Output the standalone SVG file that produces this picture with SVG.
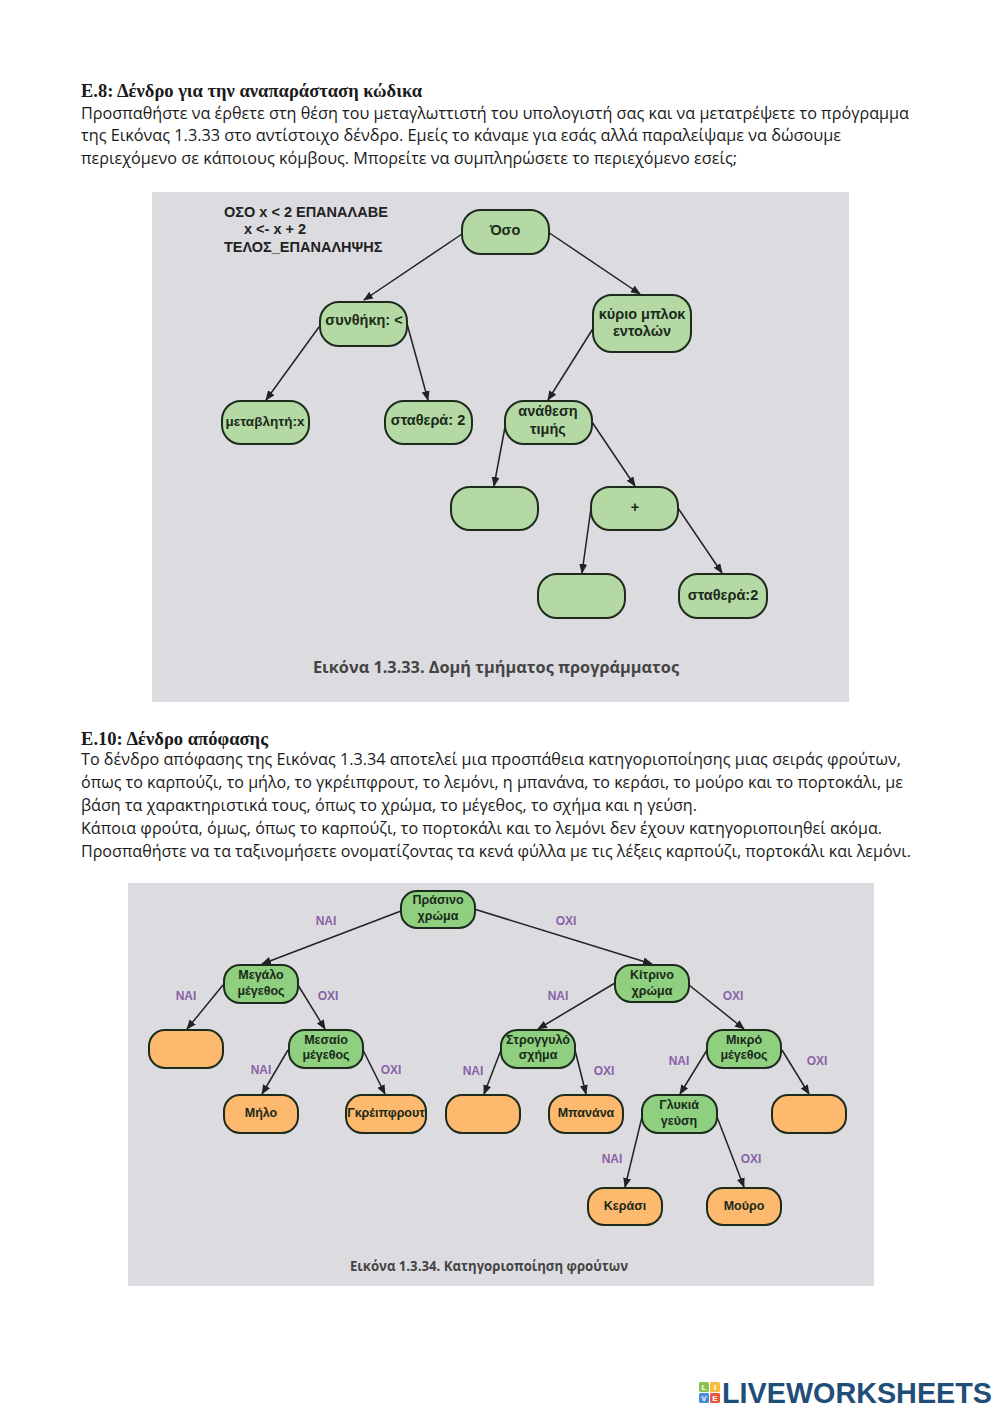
<svg xmlns="http://www.w3.org/2000/svg" width="1000" height="1413" viewBox="0 0 1000 1413">
<style>
.h{font:bold 18px "Liberation Serif",serif;fill:#1a1a1a}
.b{font:16.2px "Open Sans","Noto Sans",sans-serif;fill:#1a1a1a}
.n{stroke:#1c2b1c;stroke-width:2;fill:#b4d9a4}
.g{stroke:#1c2b1c;stroke-width:2;fill:#8fcf80}
.o{stroke:#1c2b1c;stroke-width:2;fill:#fdb96d}
.t{font:bold 14.5px "Liberation Sans",sans-serif;fill:#1a2a1a;text-anchor:middle}
.s{font:bold 12.5px "Liberation Sans",sans-serif;fill:#1a2a1a;text-anchor:middle}
.l{font:bold 12px "Liberation Sans",sans-serif;fill:#8a62a8;text-anchor:middle}
.c{font:bold 16px "Open Sans","Noto Sans",sans-serif;fill:#444;text-anchor:middle}
#connectors line{stroke:#222;stroke-width:1.5;marker-end:url(#a)}
</style>
<defs><marker id="a" markerUnits="userSpaceOnUse" markerWidth="11" markerHeight="10" refX="9" refY="4" orient="auto"><path d="M0 0L10 4L0 8z" fill="#222"/></marker></defs>
<rect width="1000" height="1413" fill="#fff"/>
<text class="h" x="81" y="97" textLength="341" lengthAdjust="spacingAndGlyphs">Ε.8: Δένδρο για την αναπαράσταση κώδικα</text>
<text class="b" x="81" y="119" textLength="828" lengthAdjust="spacingAndGlyphs">Προσπαθήστε να έρθετε στη θέση του μεταγλωττιστή του υπολογιστή σας και να μετατρέψετε το πρόγραμμα</text>
<text class="b" x="81" y="141" textLength="760" lengthAdjust="spacingAndGlyphs">της Εικόνας 1.3.33 στο αντίστοιχο δένδρο. Εμείς το κάναμε για εσάς αλλά παραλείψαμε να δώσουμε</text>
<text class="b" x="81" y="164" textLength="656" lengthAdjust="spacingAndGlyphs">περιεχόμενο σε κάποιους κόμβους. Μπορείτε να συμπληρώσετε το περιεχόμενο εσείς;</text>
<rect x="152" y="192" width="697" height="510" fill="#dcdce0"/>
<text class="h" x="81" y="745" textLength="187" lengthAdjust="spacingAndGlyphs">Ε.10: Δένδρο απόφασης</text>
<text class="b" x="81" y="765" textLength="820" lengthAdjust="spacingAndGlyphs">Το δένδρο απόφασης της Εικόνας 1.3.34 αποτελεί μια προσπάθεια κατηγοριοποίησης μιας σειράς φρούτων,</text>
<text class="b" x="81" y="788" textLength="822" lengthAdjust="spacingAndGlyphs">όπως το καρπούζι, το μήλο, το γκρέιπφρουτ, το λεμόνι, η μπανάνα, το κεράσι, το μούρο και το πορτοκάλι, με</text>
<text class="b" x="81" y="811" textLength="616" lengthAdjust="spacingAndGlyphs">βάση τα χαρακτηριστικά τους, όπως το χρώμα, το μέγεθος, το σχήμα και η γεύση.</text>
<text class="b" x="81" y="834" textLength="801" lengthAdjust="spacingAndGlyphs">Κάποια φρούτα, όμως, όπως το καρπούζι, το πορτοκάλι και το λεμόνι δεν έχουν κατηγοριοποιηθεί ακόμα.</text>
<text class="b" x="81" y="857" textLength="830" lengthAdjust="spacingAndGlyphs">Προσπαθήστε να τα ταξινομήσετε ονοματίζοντας τα κενά φύλλα με τις λέξεις καρπούζι, πορτοκάλι και λεμόνι.</text>
<rect x="128" y="883" width="746" height="403" fill="#dcdce0"/>
<g id="code" font-family="Liberation Sans" font-weight="bold" font-size="14.5" fill="#222"><text x="224" y="217">ΟΣΟ x &lt; 2 ΕΠΑΝΑΛΑΒΕ</text><text x="244" y="234">x &lt;- x + 2</text><text x="224" y="252">ΤΕΛΟΣ_ΕΠΑΝΑΛΗΨΗΣ</text></g>
<g id="connectors">
<line x1="462" y1="234" x2="364" y2="300"/><line x1="548" y1="232" x2="640" y2="294"/>
<line x1="319" y1="327" x2="266" y2="400"/><line x1="406" y1="320" x2="428" y2="400"/>
<line x1="594" y1="327" x2="548" y2="400"/><line x1="505" y1="427" x2="494" y2="486"/><line x1="592" y1="422" x2="635" y2="486"/>
<line x1="591" y1="508" x2="582" y2="573"/><line x1="678" y1="508" x2="722" y2="573"/>
<line x1="401" y1="911" x2="262" y2="964"/><line x1="474" y1="909" x2="652" y2="964"/>
<line x1="223" y1="985" x2="187" y2="1029"/><line x1="298" y1="985" x2="325" y2="1029"/>
<line x1="288" y1="1050" x2="262" y2="1094"/><line x1="363" y1="1050" x2="385" y2="1094"/>
<line x1="615" y1="983" x2="538" y2="1029"/><line x1="689" y1="985" x2="744" y2="1029"/>
<line x1="501" y1="1050" x2="484" y2="1094"/><line x1="575" y1="1050" x2="586" y2="1094"/>
<line x1="707" y1="1050" x2="680" y2="1094"/><line x1="782" y1="1050" x2="809" y2="1094"/>
<line x1="642" y1="1117" x2="625" y2="1187"/><line x1="717" y1="1117" x2="744" y2="1187"/>
</g>
<g id="n1"><rect class="n" x="462" y="210" width="87" height="44" rx="19"/><text class="t" x="505" y="235">Όσο</text></g>
<g id="n2"><rect class="n" x="320" y="302" width="87" height="44" rx="19"/><text class="t" x="364" y="325">συνθήκη: &lt;</text></g>
<g id="n3"><rect class="n" x="593" y="295" width="98" height="57" rx="19"/><text class="t" x="642" y="319">κύριο μπλοκ</text><text class="t" x="642" y="336">εντολών</text></g>
<g id="n4"><rect class="n" x="222" y="401" width="87" height="43" rx="19"/><text class="s" x="265" y="426" style="font-size:13.5px">μεταβλητή:x</text></g>
<g id="n5"><rect class="n" x="385" y="401" width="87" height="43" rx="19"/><text class="t" x="428" y="425">σταθερά: 2</text></g>
<g id="n6"><rect class="n" x="505" y="401" width="87" height="43" rx="19"/><text class="t" x="548" y="416">ανάθεση</text><text class="t" x="548" y="434">τιμής</text></g>
<g id="n7"><rect class="n" x="451" y="487" width="87" height="43" rx="19"/></g>
<g id="n8"><rect class="n" x="591" y="487" width="87" height="43" rx="19"/><text class="t" x="635" y="512">+</text></g>
<g id="n9"><rect class="n" x="538" y="574" width="87" height="44" rx="19"/></g>
<g id="n10"><rect class="n" x="679" y="574" width="88" height="44" rx="19"/><text class="t" x="723" y="600">σταθερά:2</text></g>
<text class="c" x="496" y="673" textLength="366" lengthAdjust="spacingAndGlyphs">Εικόνα 1.3.33. Δομή τμήματος προγράμματος</text>
<g id="f1"><rect class="g" x="401" y="891" width="74" height="37" rx="16"/><text class="s" x="438" y="904">Πράσινο</text><text class="s" x="438" y="920">χρώμα</text></g>
<g id="f2"><rect class="g" x="224" y="965" width="74" height="38" rx="16"/><text class="s" x="261" y="979">Μεγάλο</text><text class="s" x="261" y="995">μέγεθος</text></g>
<g id="f3"><rect class="g" x="615" y="965" width="74" height="37" rx="16"/><text class="s" x="652" y="979">Κίτρινο</text><text class="s" x="652" y="995">χρώμα</text></g>
<g id="f4"><rect class="o" x="149" y="1030" width="74" height="38" rx="16"/></g>
<g id="f5"><rect class="g" x="289" y="1030" width="74" height="38" rx="16"/><text class="s" x="326" y="1044">Μεσαίο</text><text class="s" x="326" y="1059">μέγεθος</text></g>
<g id="f6"><rect class="g" x="501" y="1030" width="74" height="38" rx="16"/><text class="s" x="538" y="1044">Στρογγυλό</text><text class="s" x="538" y="1059">σχήμα</text></g>
<g id="f7"><rect class="g" x="707" y="1030" width="74" height="38" rx="16"/><text class="s" x="744" y="1044">Μικρό</text><text class="s" x="744" y="1059">μέγεθος</text></g>
<g id="f8"><rect class="o" x="224" y="1095" width="74" height="38" rx="16"/><text class="s" x="261" y="1117">Μήλο</text></g>
<g id="f9"><rect class="o" x="346" y="1095" width="80" height="38" rx="16"/><text class="s" x="386" y="1117">Γκρέιπφρουτ</text></g>
<g id="f10"><rect class="o" x="446" y="1095" width="74" height="38" rx="16"/></g>
<g id="f11"><rect class="o" x="549" y="1095" width="74" height="38" rx="16"/><text class="s" x="586" y="1117">Μπανάνα</text></g>
<g id="f12"><rect class="g" x="642" y="1095" width="75" height="38" rx="16"/><text class="s" x="679" y="1109">Γλυκιά</text><text class="s" x="679" y="1125">γεύση</text></g>
<g id="f13"><rect class="o" x="772" y="1095" width="74" height="38" rx="16"/></g>
<g id="f14"><rect class="o" x="588" y="1188" width="74" height="37" rx="16"/><text class="s" x="625" y="1210">Κεράσι</text></g>
<g id="f15"><rect class="o" x="707" y="1188" width="74" height="37" rx="16"/><text class="s" x="744" y="1210">Μούρο</text></g>
<g id="labels"><text class="l" x="326" y="925">ΝΑΙ</text><text class="l" x="566" y="925">ΟΧΙ</text><text class="l" x="186" y="1000">ΝΑΙ</text><text class="l" x="328" y="1000">ΟΧΙ</text><text class="l" x="558" y="1000">ΝΑΙ</text><text class="l" x="733" y="1000">ΟΧΙ</text><text class="l" x="261" y="1074">ΝΑΙ</text><text class="l" x="391" y="1074">ΟΧΙ</text><text class="l" x="473" y="1075">ΝΑΙ</text><text class="l" x="604" y="1075">ΟΧΙ</text><text class="l" x="679" y="1065">ΝΑΙ</text><text class="l" x="817" y="1065">ΟΧΙ</text><text class="l" x="612" y="1163">ΝΑΙ</text><text class="l" x="751" y="1163">ΟΧΙ</text></g>
<text class="c" x="489" y="1271" textLength="278" lengthAdjust="spacingAndGlyphs" style="font-size:13.5px">Εικόνα 1.3.34. Κατηγοριοποίηση φρούτων</text>
<g id="logo"><rect x="699" y="1382" width="10" height="10" rx="1.5" fill="#8cc152"/><rect x="710" y="1382" width="10" height="10" rx="1.5" fill="#f6bb42"/><rect x="699" y="1393" width="10" height="10" rx="1.5" fill="#4a89dc"/><rect x="710" y="1393" width="10" height="10" rx="1.5" fill="#e9573f"/>
<g font-family="Liberation Sans" font-weight="bold" font-size="8" fill="#fff" text-anchor="middle"><text x="704" y="1390">L</text><text x="715" y="1390">I</text><text x="704" y="1401">V</text><text x="715" y="1401">E</text></g>
<text x="722" y="1403" font-family="Liberation Sans" font-weight="bold" font-size="29" fill="#1f4e79" textLength="270" lengthAdjust="spacingAndGlyphs">LIVEWORKSHEETS</text></g>
</svg>
